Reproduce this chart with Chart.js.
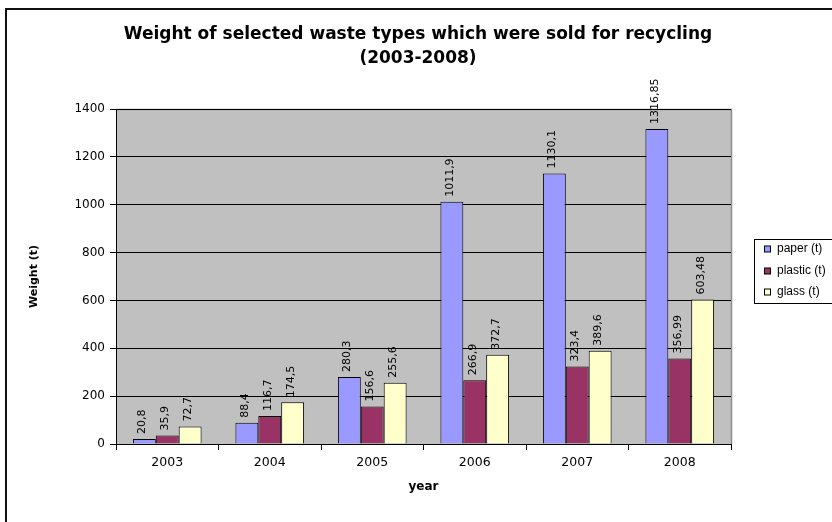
<!DOCTYPE html>
<html>
<head>
<meta charset="utf-8">
<script src="https://cdn.jsdelivr.net/npm/chart.js@4.4.1/dist/chart.umd.min.js"></script>
<style>
  html, body { margin: 0; padding: 0; background: #fff; }
  #wrap { position: relative; width: 832px; height: 522px; }
</style>
</head>
<body>
<div id="wrap"><canvas id="wasteChart"></canvas></div>
<script>
const years = ['2003', '2004', '2005', '2006', '2007', '2008'];
const paper = [20.8, 88.4, 280.3, 1011.9, 1130.1, 1316.85];
const plastic = [35.9, 116.7, 156.6, 266.9, 323.4, 356.99];
const glass = [72.7, 174.5, 255.6, 372.7, 389.6, 603.48];
const titleLines = ['Weight of selected waste types which were sold for recycling', '(2003-2008)'];

const FONT = "'DejaVu Sans', sans-serif";

// gray plot background, frame, title, legend
const decorations = {
  id: 'decorations',
  beforeDraw(chart) {
    const { ctx, chartArea: a } = chart;
    ctx.save();
    ctx.fillStyle = '#fff';
    ctx.fillRect(0, 0, chart.width, chart.height);
    ctx.fillStyle = '#c0c0c0';
    ctx.fillRect(a.left, a.top, a.right - a.left, a.bottom - a.top);
    ctx.strokeStyle = '#8c8c8c';
    ctx.lineWidth = 1.5;
    ctx.beginPath();
    ctx.moveTo(a.left, a.top + 0.5);
    ctx.lineTo(a.right + 0.5, a.top + 0.5);
    ctx.lineTo(a.right + 0.5, a.bottom);
    ctx.stroke();

    // outer frame
    ctx.strokeStyle = '#111';
    ctx.lineWidth = 2;
    ctx.strokeRect(6, 9, 900, 600);

    ctx.fillStyle = '#000';
    ctx.font = 'bold 17px ' + FONT;
    ctx.textAlign = 'center';
    ctx.textBaseline = 'alphabetic';
    ctx.fillText(titleLines[0], 418, 39);
    ctx.fillText(titleLines[1], 418, 63);
    ctx.restore();
  },
  afterDraw(chart) {
    const { ctx } = chart;
    ctx.save();
    ctx.fillStyle = '#fff';
    ctx.fillRect(754.5, 239.5, 100, 64);
    ctx.strokeStyle = '#000';
    ctx.lineWidth = 1;
    ctx.strokeRect(754.5, 239.5, 100, 64);
    const rows = [249, 271, 292];
    ctx.font = '12px "Liberation Sans", Arial, sans-serif';
    ctx.textBaseline = 'middle';
    ctx.textAlign = 'left';
    chart.data.datasets.forEach((ds, i) => {
      const y = rows[i];
      ctx.fillStyle = ds.backgroundColor;
      ctx.fillRect(764.5, y - 3, 6, 6);
      ctx.strokeStyle = '#000';
      ctx.strokeRect(764.5, y - 3, 6, 6);
      ctx.fillStyle = '#000';
      ctx.fillText(ds.label, 777, y);
    });
    ctx.restore();
  },
};

// vertical value labels above each bar
const valueLabels = {
  id: 'valueLabels',
  afterDatasetsDraw(chart) {
    const { ctx } = chart;
    ctx.save();
    ctx.fillStyle = '#000';
    ctx.font = '11px ' + FONT;
    ctx.textAlign = 'left';
    ctx.textBaseline = 'middle';
    chart.data.datasets.forEach((ds, di) => {
      const meta = chart.getDatasetMeta(di);
      meta.data.forEach((bar, i) => {
        const txt = String(ds.data[i]).replace('.', ',');
        ctx.save();
        ctx.translate(bar.x - 2, bar.y - 5);
        ctx.rotate(-Math.PI / 2);
        ctx.fillText(txt, 0, 0);
        ctx.restore();
      });
    });
    ctx.restore();
  },
};

const ctx = document.getElementById('wasteChart').getContext('2d');
new Chart(ctx, {
  type: 'bar',
  data: {
    labels: years,
    datasets: [
      { label: 'paper (t)', data: paper, backgroundColor: '#9999ff' },
      { label: 'plastic (t)', data: plastic, backgroundColor: '#993366' },
      { label: 'glass (t)', data: glass, backgroundColor: '#ffffcc' },
    ].map((d) => Object.assign(d, {
      borderColor: '#000',
      borderWidth: 1,
      borderSkipped: 'bottom',
      categoryPercentage: 0.67,
      barPercentage: 1,
    })),
  },
  options: {
    responsive: true,
    maintainAspectRatio: false,
    animation: false,
    devicePixelRatio: 1,
    layout: { padding: { top: 109, right: 101, bottom: 0, left: 0 } },
    plugins: {
      legend: { display: false },
      title: { display: false },
      tooltip: { enabled: false },
    },
    scales: {
      x: {
        afterFit: (s) => { s.height = 78; },
        border: { color: '#000', width: 1 },
        grid: { offset: true, drawOnChartArea: false, drawTicks: true, tickLength: 6, color: '#000' },
        ticks: { color: '#000', font: { family: FONT, size: 12.5 }, padding: 5 },
        title: {
          display: true,
          text: 'year',
          color: '#000',
          font: { family: FONT, size: 12, weight: 'bold' },
          padding: { top: 0, bottom: 28 },
        },
      },
      y: {
        min: 0,
        max: 1400,
        afterFit: (s) => { s.width = 116; },
        border: { color: '#000', width: 1 },
        grid: { color: '#000', lineWidth: 1, tickLength: 6, drawTicks: true },
        ticks: {
          stepSize: 200,
          color: '#000',
          font: { family: FONT, size: 12 },
          padding: 5,
          callback: (v) => String(v),
        },
        title: {
          display: true,
          text: 'Weight (t)',
          color: '#000',
          font: { family: FONT, size: 11, weight: 'bold' },
          padding: { top: 28, bottom: 0 },
        },
      },
    },
  },
  plugins: [decorations, valueLabels],
});
</script>
</body>
</html>
